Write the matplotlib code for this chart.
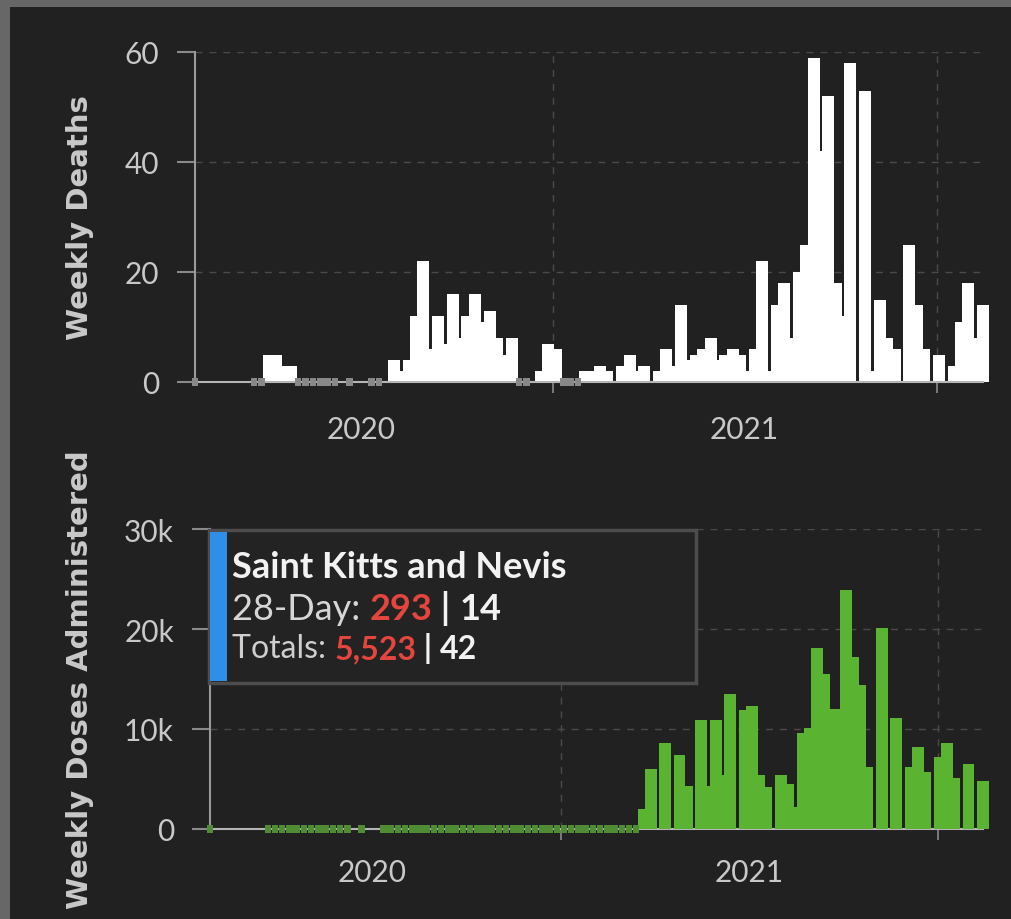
import numpy as np
import matplotlib
matplotlib.use("Agg")
import matplotlib.pyplot as plt
from matplotlib.patches import Rectangle
from matplotlib.text import Annotation

plt.rcParams['font.family'] = ['Lato', 'DejaVu Sans']

nan = np.nan
# week index relative to the first week of 2020
weeks = np.arange(-23, 85)

deaths = [0, nan, nan, nan, nan, nan, nan, nan,                       # -23..-16
          0, 0, 5, 5, 3, 3, 0, 0, 0, 0, 0, 0, nan, 0, nan,           # -15..-1
          nan, 0, 0, nan, 4, 2, 4, 12, 22, 6, 12, 7, 16, 8, 12, 16, 11, 13, 8, 5, 8,   # 0..20
          0, 0, nan, 2, 7, 6, 0, 0, 0, 2, 2, 3, 2, nan, 3, 5, 2, 3, nan, 2,            # 21..40
          6, 3, 14, 4, 5, 6, 8, 4, 5, 6, 5, 2, 6, 22, 2, 14, 18, 8, 20, 25,            # 41..60
          59, 42, 52, 18, 12, 58, nan, 53, 2, 15, 8, 6, nan, 25, 14, 6, nan, 5, nan, 3,  # 61..80
          11, 18, 8, 14]                                                # 81..84

doses_k = ([0] + [nan] * 7 + [0] * 12 + [nan, 0, nan, nan] + [0] * 36 +
           [2.0, 6.0, nan, 8.6, nan, 7.4, 4.3, nan, 10.9, 4.3,
            10.9, 5.4, 13.5, nan, 11.9, 12.3, 5.4, 4.2, nan, 5.4,
            4.5, 2.2, 9.6, 10.1, 18.1, 15.5, 12.0, 12.0, 23.9, 17.2,
            14.4, 6.2, nan, 20.1, nan, 11.1, nan, 6.2, 8.2, 5.7,
            nan, 7.2, 8.6, 5.1, nan, 6.5, nan, 4.8])
doses = np.array(doses_k) * 1000

year_pos = [-0.5, 51.64]
year_labels = ['2020', '2021']
midyear_pos = [25.57, 77.71]

death_ticks = [0, 20, 40, 60]
death_tick_labels = ['0', '20', '40', '60']
dose_ticks = [0, 10000, 20000, 30000]
dose_tick_labels = ['0', '10k', '20k', '30k']

BG = '#212121'
W, H = 1012, 920

fig = plt.figure(figsize=(W / 100, H / 100), dpi=100, facecolor=BG)

# frame strips of the screenshot
fig.patches.append(Rectangle((0, 1 - 8 / H), 1, 8 / H, transform=fig.transFigure,
                             facecolor='#676767', edgecolor='none', zorder=-1))
fig.patches.append(Rectangle((0, 0), 10 / W, 1, transform=fig.transFigure,
                             facecolor='#676767', edgecolor='none', zorder=-1))

ax1 = fig.add_axes([195 / W, 1 - 383 / H, (983 - 195) / W, 330 / H])
ax2 = fig.add_axes([210 / W, 1 - 830 / H, (983 - 210) / W, 300 / H])

TICKFS = 21.5


def style(ax, yt, ytl, ymax, xpad):
    ax.set_facecolor(BG)
    for s in ['top', 'right']:
        ax.spines[s].set_visible(False)
    ax.spines['left'].set_color('#9a9a9a')
    ax.spines['left'].set_linewidth(1.5)
    ax.spines['bottom'].set_color('#b5b5b5')
    ax.spines['bottom'].set_linewidth(1.5)
    ax.set_xlim(-23, 84)
    ax.set_ylim(0, ymax)
    ax.set_yticks(yt)
    ax.set_yticklabels(ytl)
    ax.tick_params(axis='y', length=13, width=1.5, color='#8a8a8a', pad=13,
                   labelsize=TICKFS, labelcolor='#c8c8c8')
    ax.set_xticks(year_pos)
    ax.set_xticklabels(year_labels)
    ax.set_xticks(midyear_pos, minor=True)
    ax.tick_params(axis='x', which='major', length=0, pad=xpad, labelsize=TICKFS,
                   labelcolor='#c8c8c8')
    ax.tick_params(axis='x', which='minor', length=8, width=1.2, color='#8a8a8a')
    ax.grid(axis='y', which='major', color='#4a4a4a', linestyle=(0, (5, 5)), linewidth=1)
    ax.grid(axis='x', which='minor', color='#4a4a4a', linestyle=(0, (5, 5)), linewidth=1)
    ax.set_axisbelow(True)


style(ax1, death_ticks, death_tick_labels, 60, 24)
style(ax2, dose_ticks, dose_tick_labels, 30000, 21)

d = np.array(deaths, dtype=float)
pos = d > 0
zero = d == 0
ax1.bar(weeks[pos], d[pos], width=1.63, color='#ffffff', linewidth=0, zorder=1, clip_on=False)
ax1.bar(weeks[zero], 1.3, bottom=-0.65, width=0.9, color='#888888', linewidth=0, zorder=3,
        clip_on=False)
ax1.spines['bottom'].set_zorder(2.5)

v = doses
pos = v > 0
zero = v == 0
ax2.bar(weeks[pos], v[pos], width=1.63, color='#5bb431', linewidth=0, zorder=3, clip_on=False)
ax2.bar(weeks[zero], 750, bottom=-375, width=0.9, color='#4f8c34', linewidth=0, zorder=3,
        clip_on=False)

# axis titles
fig.text(80 / W, 1 - 218 / H, 'Weekly Deaths', rotation=90, ha='center', va='center',
         fontsize=21, fontweight='bold', color='#c9c9c9',
         family=['Liberation Sans Narrow', 'DejaVu Sans'])
fig.text(80 / W, 1 - 680 / H, 'Weekly Doses Administered', rotation=90, ha='center',
         va='center', fontsize=21, fontweight='bold', color='#c9c9c9',
         family=['Liberation Sans Narrow', 'DejaVu Sans'])

# tooltip
fig.patches.append(Rectangle((209 / W, 1 - 684 / H), 487 / W, 153 / H, transform=fig.transFigure,
                             facecolor='#232323', edgecolor='#4d4d4d', linewidth=2.5, zorder=10))
fig.patches.append(Rectangle((210 / W, 1 - 682 / H), 17 / W, 149 / H, transform=fig.transFigure,
                             facecolor='#2f8ee8', edgecolor='none', zorder=11))

fig.text(232 / W, 1 - 578 / H, 'Saint Kitts and Nevis', fontsize=26, fontweight='bold',
         color='#f2f2f2', ha='left', va='baseline', zorder=12)


def chain(prev, s, **kw):
    a = Annotation(s, xy=(1, 0), xycoords=prev, va='bottom', ha='left', zorder=12, **kw)
    fig.add_artist(a)
    return a


RED = '#e4453d'
t = fig.text(232 / W, 1 - 620 / H, '28-Day: ', fontsize=26, color='#d6d6d6', ha='left',
             va='baseline', zorder=12)
t = chain(t, '293', fontsize=26, fontweight='bold', color=RED)
t = chain(t, ' | ', fontsize=26, fontweight='bold', color='#f2f2f2')
t = chain(t, '14', fontsize=26, fontweight='bold', color='#f2f2f2')

t = fig.text(232 / W, 1 - 658 / H, 'Totals: ', fontsize=23, color='#cfcfcf', ha='left',
             va='baseline', zorder=12)
t = chain(t, '5,523', fontsize=23, fontweight='bold', color=RED)
t = chain(t, ' | ', fontsize=23, fontweight='bold', color='#f2f2f2')
t = chain(t, '42', fontsize=23, fontweight='bold', color='#f2f2f2')

fig.savefig('out.png', dpi=100, facecolor=BG)
